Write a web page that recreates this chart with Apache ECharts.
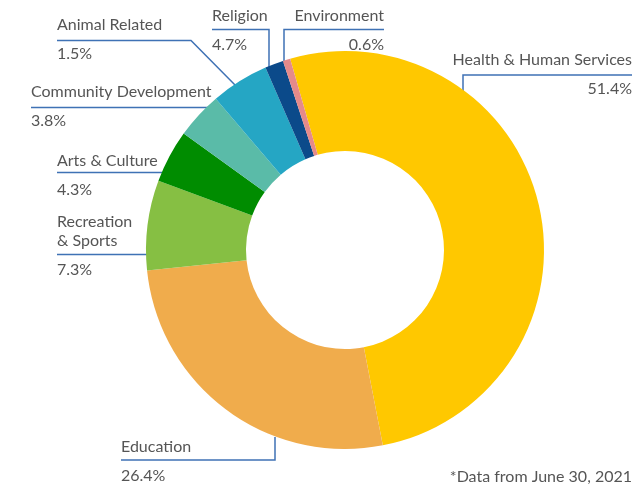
<!DOCTYPE html>
<html>
<head>
<meta charset="utf-8">
<script src="https://cdn.jsdelivr.net/npm/echarts@6/dist/echarts.min.js"></script>
<style>
html,body{margin:0;padding:0;background:#fff;}
#chart{width:644px;height:484px;}
</style>
</head>
<body>
<div id="chart"></div>
<script>
// Data (clockwise from top)
var categories = ['Health & Human Services', 'Education', 'Recreation\n& Sports', 'Arts & Culture', 'Community Development', 'Religion', 'Animal Related', 'Environment'];
var values = [51.4, 26.4, 7.3, 4.3, 3.8, 4.7, 1.5, 0.6];
var colors = ['#FFC800', '#F0AC4C', '#86BF43', '#008C00', '#5ABBA8', '#25A6C4', '#0B4A8A', '#E58A8A'];
var footnote = '*Data from June 30, 2021';

// Label placement (layout only)
var labelLayouts = {
  'Health & Human Services': {x: 632, y: 50.5, align: 'right', pts: [[463, 93], [463, 75], [632, 75]]},
  'Education': {x: 121, y: 437.5, align: 'left', pts: [[275, 437], [275, 460], [121, 460]]},
  'Recreation\n& Sports': {x: 57, y: 212, align: 'left', pts: [[148, 254.5], [147, 254.5], [57, 254.5]]},
  'Arts & Culture': {x: 57, y: 151, align: 'left', pts: [[163, 172.5], [162, 172.5], [57, 172.5]]},
  'Community Development': {x: 31, y: 82.5, align: 'left', pts: [[210, 107.5], [209, 107.5], [31, 107.5]]},
  'Animal Related': {x: 57, y: 15.5, align: 'left', pts: [[236, 86], [191, 40.5], [57, 40.5]]},
  'Religion': {x: 212, y: 6, align: 'left', pts: [[269, 68], [269, 29.5], [212, 29.5]]},
  'Environment': {x: 384, y: 6, align: 'right', pts: [[284, 63], [284, 29.5], [384, 29.5]]}
};

var chart = echarts.init(document.getElementById('chart'));
var seriesData = categories.map(function (c, i) {
  var lay = labelLayouts[c];
  return {
    name: c,
    value: values[i],
    itemStyle: {color: colors[i]},
    label: {
      align: lay.align,
      rich: {
        n: {fontSize: 16, lineHeight: 19, color: '#555', fontFamily: 'Lato', align: lay.align},
        p: {fontSize: 16, lineHeight: 39, color: '#555', fontFamily: 'Lato', align: lay.align}
      }
    }
  };
});

chart.setOption({
  backgroundColor: '#fff',
  animation: false,
  title: {
    text: footnote,
    right: 12,
    top: 469,
    padding: 0,
    textStyle: {fontSize: 16, color: '#555', fontWeight: 'normal', fontFamily: 'Lato'}
  },
  series: [{
    type: 'pie',
    center: [345, 250],
    radius: [99, 199],
    startAngle: 106,
    clockwise: true,
    avoidLabelOverlap: false,
    data: seriesData,
    label: {
      show: true,
      position: 'outside',
      formatter: function (p) {
        return '{n|' + p.name + '}\n{p|' + p.value + '%}';
      }
    },
    labelLine: {
      show: true,
      length: 10,
      length2: 10,
      lineStyle: {color: '#3F72B5', width: 1.5}
    },
    labelLayout: function (params) {
      var lay = labelLayouts[categories[params.dataIndex]];
      return {
        x: lay.x,
        y: lay.y,
        align: lay.align,
        verticalAlign: 'top',
        labelLinePoints: lay.pts
      };
    },
    emphasis: {disabled: true}
  }]
});
</script>
</body>
</html>
